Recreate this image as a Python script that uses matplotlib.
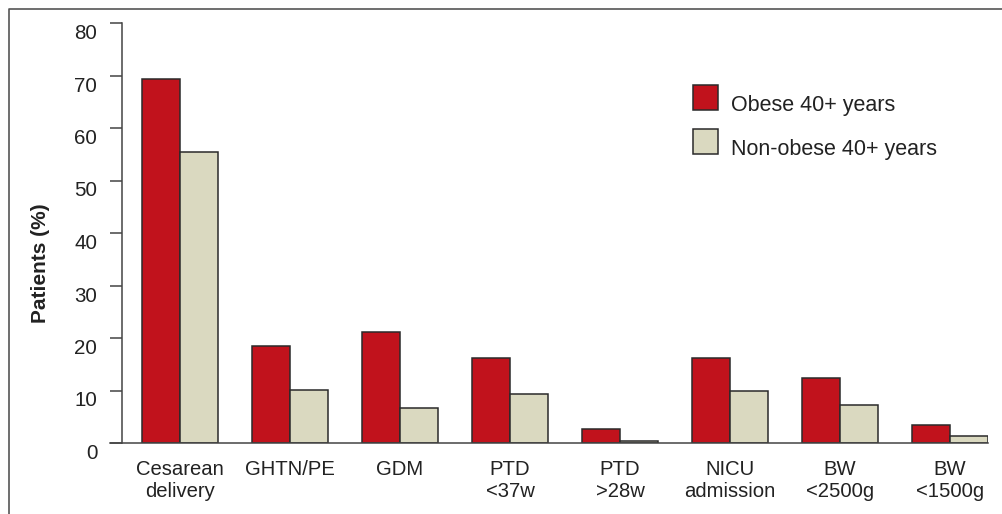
import matplotlib
matplotlib.use("Agg")
import matplotlib.pyplot as plt
import numpy as np
from matplotlib.lines import Line2D
from matplotlib.patches import Rectangle
from matplotlib.transforms import ScaledTranslation

plt.rcParams['font.family'] = ['Liberation Sans', 'DejaVu Sans']

categories = ["Cesarean\ndelivery", "GHTN/PE", "GDM", "PTD\n<37w", "PTD\n>28w",
              "NICU\nadmission", "BW\n<2500g", "BW\n<1500g"]
obese = [69.3, 18.4, 21.1, 16.2, 2.6, 16.2, 12.3, 3.5]
non_obese = [55.4, 10.1, 6.7, 9.3, 0.4, 10.0, 7.3, 1.3]
series_names = ["Obese 40+ years", "Non-obese 40+ years"]
colors = ["#C1121C", "#DAD9C0"]
yticks = [0, 10, 20, 30, 40, 50, 60, 70, 80]

W, H = 1002, 514
fig = plt.figure(figsize=(W / 100, H / 100), dpi=100)
ax = fig.add_axes([122 / W, 71 / H, (988 - 122) / W, 420 / H])

x = np.arange(len(categories))
bw = 38 / 110
edge = "#2a2a2a"
ax.bar(x - bw, obese, width=bw, align='edge', color=colors[0], edgecolor=edge, linewidth=1.1, zorder=3)
ax.bar(x, non_obese, width=bw, align='edge', color=colors[1], edgecolor=edge, linewidth=1.1, zorder=3)

ax.set_xlim(-58 / 110, len(categories) - 1 + bw)
ax.set_ylim(0, 80)
ax.set_yticks(yticks)
ax.set_xticks(x)
ax.set_xticklabels(categories, fontsize=14.6, color="#222222", linespacing=1.15)
ax.tick_params(axis='x', length=0, pad=12.5)
ax.tick_params(axis='y', length=8.6, width=1.1, color="#444444", labelsize=14.8,
               labelcolor="#222222", pad=9.2)
for lab in ax.get_yticklabels():
    lab.set_transform(lab.get_transform() + ScaledTranslation(0, -8.5 / 100, fig.dpi_scale_trans))

for s in ["top", "right", "bottom"]:
    ax.spines[s].set_visible(False)
ax.spines["left"].set_color("#444444")
ax.spines["left"].set_linewidth(1.1)
# baseline extends left to the tick marks
ax.add_line(Line2D([-12 / 866, 1], [0, 0], transform=ax.transAxes, color="#444444",
                   linewidth=1.1, clip_on=False, zorder=4))

fig.text(40.5 / W, 1 - 263 / H, "Patients (%)", rotation=90, fontsize=15, fontweight='bold',
         ha='center', va='center', color="#222222")

# legend
for i, (name, c) in enumerate(zip(series_names, colors)):
    top = 85 + i * 44
    fig.add_artist(Rectangle((693 / W, 1 - (top + 25) / H), 25 / W, 25 / H,
                             facecolor=c, edgecolor=edge, linewidth=1.1,
                             transform=fig.transFigure))
    fig.text(731 / W, 1 - (top + 26.5) / H, name, fontsize=15.5, va='baseline',
             ha='left', color="#222222")

# outer frame (left and top)
fig.add_artist(Line2D([8.5 / W, 8.5 / W, 1], [0, 1 - 8.5 / H, 1 - 8.5 / H],
                      transform=fig.transFigure, color="#555555", linewidth=1.2))

fig.savefig("out.png", dpi=100)
